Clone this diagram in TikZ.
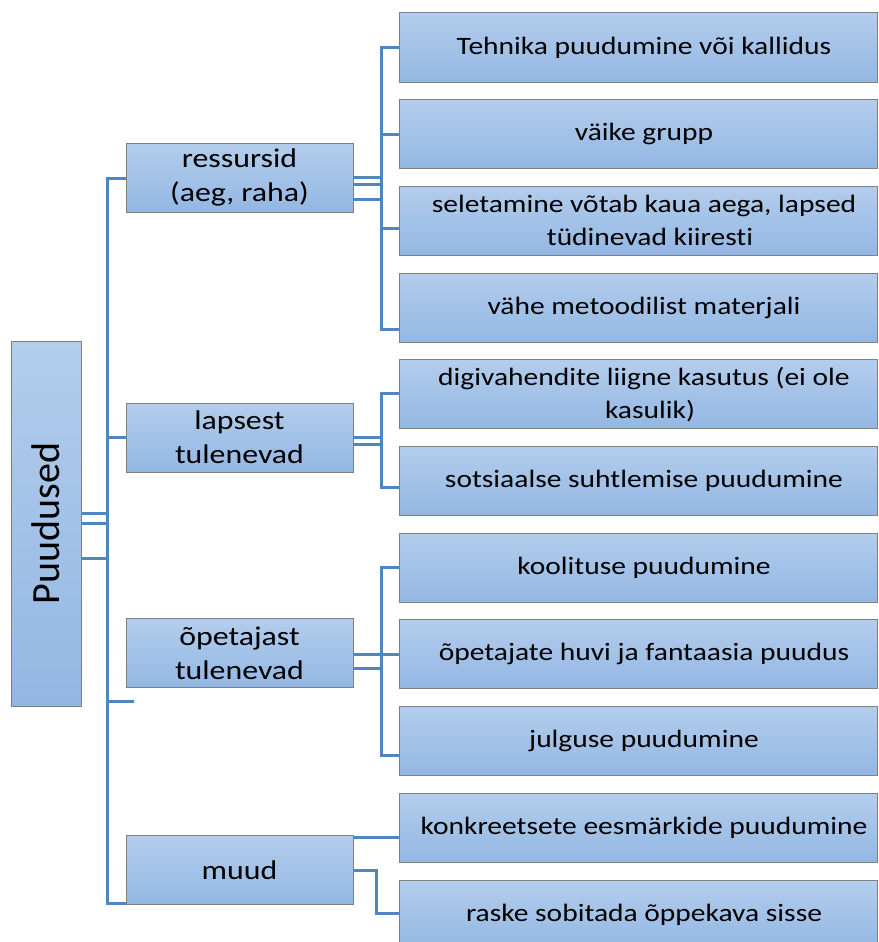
\documentclass[tikz,border=0pt]{standalone}
\usepackage{fontspec}
\setmainfont{Carlito}[Ligatures=NoCommon]
\newfontfamily\widefont{Carlito}[FakeStretch=1.18,Ligatures=NoCommon]
\newcommand\padl{\hspace*{12pt}}
\begin{document}
\begin{tikzpicture}[x=1pt,y=-1pt,
  boxbase/.style={draw=black!50,line width=1pt,top color=boxtop,bottom color=boxbot,
    inner sep=0pt,outer sep=0pt,align=center,text=black},
  rootbox/.style={boxbase,minimum width=70pt,minimum height=365pt},
  catbox/.style={boxbase,minimum width=227pt,minimum height=69pt,
    font=\widefont\fontsize{27}{34}\selectfont},
  leafbox/.style={boxbase,minimum width=478pt,minimum height=69pt,
    font=\widefont\fontsize{25}{33}\selectfont,execute at begin node=\padl},
  conn/.style={draw=linkblue,line width=3pt}]
\definecolor{boxtop}{HTML}{B3CDEC}
\definecolor{boxbot}{HTML}{93B7E3}
\definecolor{linkblue}{HTML}{4F86C0}
\useasboundingbox (0,0) rectangle (878,942);

% root
\node[rootbox] (root) at (46,523.5) {};
\node[rotate=90,font=\fontsize{40}{48}\selectfont] (rootlabel) at (root.center) {Puudused};

% categories
\node[catbox] (res) at (239.5,177.5) {ressursid\\(aeg, raha)};
\node[catbox] (lap) at (239.5,437.5) {lapsest\\tulenevad};
\node[catbox] (ope) at (239.5,653) {õpetajast\\tulenevad};
\node[catbox] (muu) at (239.5,870) {muud};

% leaves
\node[leafbox] (c1) at (638,47.5) {Tehnika puudumine või kallidus};
\node[leafbox] (c2) at (638,134.2) {väike grupp};
\node[leafbox] (c3) at (638,220.9) {seletamine võtab kaua aega, lapsed\\\padl tüdinevad kiiresti};
\node[leafbox] (c4) at (638,307.6) {vähe metoodilist materjali};
\node[leafbox] (c5) at (638,394.3) {digivahendite liigne kasutus (ei ole\\\padl kasulik)};
\node[leafbox] (c6) at (638,481) {sotsiaalse suhtlemise puudumine};
\node[leafbox] (c7) at (638,567.7) {koolituse puudumine};
\node[leafbox] (c8) at (638,654.4) {õpetajate huvi ja fantaasia puudus};
\node[leafbox] (c9) at (638,741.1) {julguse puudumine};
\node[leafbox] (c10) at (638,827.8) {konkreetsete eesmärkide puudumine};
\node[leafbox] (c11) at (638,914.5) {raske sobitada õppekava sisse};

% bus lines
\coordinate (trunk) at (107,0);
\coordinate (bus) at (381,0);
\coordinate (muubus) at (376,0);

% root to trunk
\draw[conn] (root.east|-0,513) -- (trunk|-0,513);
\draw[conn] (root.east|-0,523) -- (trunk|-0,523);
\draw[conn] (root.east|-0,558) -- (trunk|-0,558);
\draw[conn] (res.west|-0,178) -- (trunk|-0,178) -- (trunk|-0,903) -- (muu.west|-0,903);
\draw[conn] (trunk|-0,437) -- (lap.west|-0,437);
\coordinate (stub) at (134,701);
\draw[conn] (trunk|-0,701) -- (stub);

% ressursid branch
\draw[conn] (res.east|-0,177) -- (bus|-0,177);
\draw[conn] (res.east|-0,184) -- (bus|-0,184);
\draw[conn] (res.east|-0,199) -- (bus|-0,199);
\draw[conn] (c1.west|-0,48) -- (bus|-0,48) -- (bus|-0,329) -- (c4.west|-0,329);
\draw[conn] (bus|-0,134) -- (c2.west|-0,134);
\draw[conn] (bus|-0,228) -- (c3.west|-0,228);

% lapsest branch
\draw[conn] (lap.east|-0,437) -- (bus|-0,437);
\draw[conn] (lap.east|-0,444) -- (bus|-0,444);
\draw[conn] (c5.west|-0,393) -- (bus|-0,393) -- (bus|-0,487) -- (c6.west|-0,487);

% opetajast branch
\draw[conn] (ope.east|-0,654) -- (c8.west|-0,654);
\draw[conn] (ope.east|-0,668) -- (bus|-0,668);
\draw[conn] (c7.west|-0,567) -- (bus|-0,567) -- (bus|-0,755) -- (c9.west|-0,755);

% muud branch
\draw[conn] (muu.east|-0,837) -- (c10.west|-0,837);
\draw[conn] (muu.east|-0,870) -- (muubus|-0,870) -- (muubus|-0,913) -- (c11.west|-0,913);
\end{tikzpicture}
\end{document}
